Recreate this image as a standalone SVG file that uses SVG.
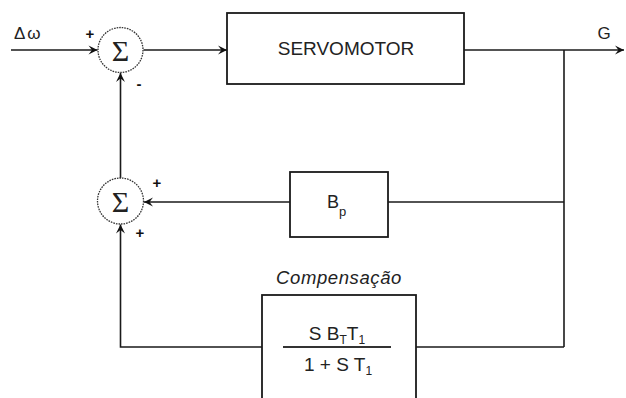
<svg xmlns="http://www.w3.org/2000/svg" width="626" height="398" viewBox="0 0 626 398">
<defs>
<marker id="arr" viewBox="-10 -5 11 10" refX="0" refY="0" markerWidth="11" markerHeight="10" markerUnits="userSpaceOnUse" orient="auto">
<path d="M0,0 L-9,-4.5 L-5.5,0 L-9,4.5 Z" fill="#111"/>
</marker>
</defs>
<style>
.ln{fill:none;stroke:#1a1a1a;stroke-width:1.6}
.box{fill:#fff;stroke:#1a1a1a;stroke-width:1.8}
.sum{fill:#fff;stroke:#333;stroke-width:1.3;stroke-dasharray:1.6 1}
.t{font-family:"Liberation Sans",Arial,sans-serif;fill:#222}
.sig{font-family:"Liberation Serif","Times New Roman",serif;font-size:30px;fill:#222;text-anchor:middle}
.sg{font-family:"Liberation Sans",Arial,sans-serif;font-size:15px;font-weight:bold;fill:#111;text-anchor:middle}
</style>
<rect width="626" height="398" fill="#fff"/>
<g id="connectors">
<path class="ln" d="M11,50 H97.5" marker-end="url(#arr)"/>
<path class="ln" d="M143.5,50 H227" marker-end="url(#arr)"/>
<path class="ln" d="M464,50 H624" marker-end="url(#arr)"/>
<path class="ln" d="M564,50 V347"/>
<path class="ln" d="M564,202 H388"/>
<path class="ln" d="M290,202 H144" marker-end="url(#arr)"/>
<path class="ln" d="M564,347 H416"/>
<path class="ln" d="M262,347 H120.5 V224.5" marker-end="url(#arr)"/>
<path class="ln" d="M120.5,178 V73" marker-end="url(#arr)"/>
</g>
<g id="input">
<text class="t" x="14" y="39" font-size="17" letter-spacing="2">Δω</text>
</g>
<g id="sum1">
<circle class="sum" cx="120.5" cy="50" r="22.5"/>
<text class="sig" x="120.5" y="61">Σ</text>
<text class="sg" x="90" y="39">+</text>
<text class="sg" x="139" y="89" font-size="18">-</text>
</g>
<g id="servomotor">
<rect class="box" x="227" y="13" width="237" height="71"/>
<text class="t" x="346" y="55" font-size="19" text-anchor="middle">SERVOMOTOR</text>
</g>
<g id="output">
<text class="t" x="604" y="39" font-size="17" text-anchor="middle">G</text>
</g>
<g id="sum2">
<circle class="sum" cx="120.5" cy="201" r="23"/>
<text class="sig" x="120.5" y="212">Σ</text>
<text class="sg" x="157" y="188">+</text>
<text class="sg" x="140" y="238">+</text>
</g>
<g id="bp">
<rect class="box" x="290" y="172" width="98" height="65"/>
<text class="t" x="327" y="208" font-size="18">B<tspan font-size="13" dy="8">p</tspan></text>
</g>
<g id="compensacao">
<text class="t" x="339" y="284" font-size="18.5" font-style="italic" text-anchor="middle" letter-spacing="0.6">Compensação</text>
<rect class="box" x="262" y="295" width="154" height="120"/>
<text class="t" x="337" y="340" font-size="19" text-anchor="middle">S B<tspan font-size="12" dy="4">T</tspan><tspan dy="-4">T</tspan><tspan font-size="12" dy="4">1</tspan></text>
<path d="M283,347 H391" stroke="#333" stroke-width="2"/>
<text class="t" x="338" y="371" font-size="19" text-anchor="middle">1 + S T<tspan font-size="12" dy="4">1</tspan></text>
</g>
</svg>
